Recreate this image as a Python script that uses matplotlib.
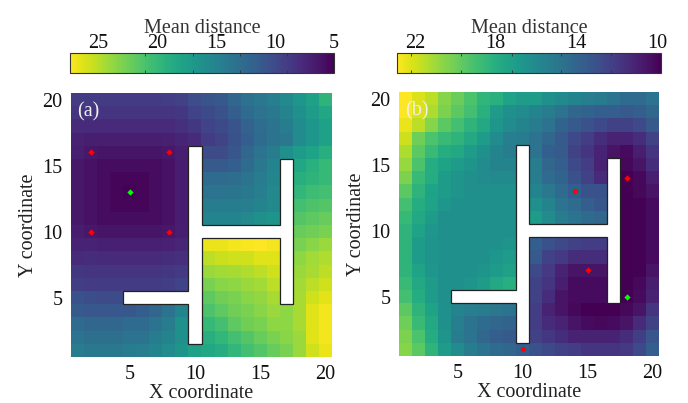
import numpy as np
import matplotlib
matplotlib.use('Agg')
import matplotlib.pyplot as plt
from matplotlib.patches import Polygon

plt.rcParams['font.family'] = ['Liberation Serif', 'DejaVu Serif']

n = np.nan

# mean distance por celda, filas de y=20 (arriba) a y=1
dist_a = [
    [9.0, 9.0, 9.0, 9.0, 9.0, 9.0, 9.0, 9.2, 9.4, 10.3, 10.8, 11.2, 12.6, 13.4, 14.0, 14.6, 15.6, 16.8, 17.8, 19.6],
    [8.4, 8.4, 8.4, 8.4, 8.4, 8.4, 8.4, 8.4, 8.6, 9.5, 10.0, 10.6, 11.7, 12.8, 13.5, 14.0, 15.1, 16.2, 17.3, 18.4],
    [7.7, 7.7, 7.7, 7.7, 7.7, 7.7, 7.7, 7.7, 8.0, 8.6, 9.5, 10.0, 10.8, 12.0, 13.0, 13.5, 14.4, 15.8, 16.8, 17.8],
    [7.1, 6.9, 6.9, 6.9, 6.9, 6.9, 6.9, 7.0, 7.3, 7.7, 9.0, 9.6, 10.6, 11.7, 12.8, 13.5, 14.0, 15.8, 16.8, 17.8],
    [6.9, 6.4, 6.3, 6.3, 6.3, 6.3, 6.3, 6.4, 6.9, n, 10.2, 10.2, 11.0, 12.4, 13.5, 14.5, 16.2, 17.3, 18.0, 19.0],
    [6.4, 6.1, 5.7, 5.7, 5.7, 5.7, 5.7, 6.1, 6.7, n, 11.3, 11.3, 11.7, 12.8, 14.0, 15.1, n, 18.4, 19.2, 20.0],
    [6.4, 6.1, 5.7, 5.3, 5.3, 5.3, 5.7, 6.1, 6.7, n, 12.8, 12.8, 13.0, 13.5, 14.4, 15.3, n, 19.1, 19.6, 20.0],
    [6.4, 6.1, 5.7, 5.3, 5.1, 5.3, 5.7, 6.1, 6.7, n, 13.5, 13.5, 13.7, 14.0, 14.6, 15.5, n, 19.8, 20.4, 20.7],
    [6.4, 6.1, 5.7, 5.3, 5.3, 5.3, 5.7, 6.1, 6.7, n, 14.4, 14.4, 14.4, 14.6, 15.1, 15.7, n, 20.7, 21.1, 21.4],
    [6.4, 6.1, 5.7, 5.7, 5.7, 5.7, 5.7, 6.1, 6.7, n, 15.1, 15.1, 15.1, 15.5, 16.2, 16.6, n, 21.4, 21.8, 22.2],
    [6.7, 6.4, 6.3, 6.3, 6.3, 6.3, 6.3, 6.4, 6.9, n, n, n, n, n, n, n, n, 22.2, 22.5, 22.9],
    [7.2, 7.2, 7.0, 7.0, 7.0, 7.0, 7.0, 7.1, 7.4, n, 26.7, 26.7, 27.0, 27.2, 27.4, 27.0, n, 22.9, 23.4, 24.0],
    [7.7, 7.9, 7.7, 7.7, 7.7, 7.7, 7.7, 7.9, 8.0, n, 25.2, 25.6, 25.8, 25.8, 26.3, 26.3, n, 23.6, 24.3, 24.7],
    [8.6, 8.4, 8.4, 8.4, 8.4, 8.4, 8.4, 8.6, 8.8, n, 24.0, 24.3, 24.5, 24.7, 25.2, 25.8, n, 24.0, 24.5, 25.2],
    [9.2, 9.0, 9.0, 9.0, 9.0, 9.0, 9.0, 9.2, 9.5, n, 22.9, 23.4, 23.6, 24.0, 24.3, 25.2, n, 24.3, 25.2, 25.8],
    [10.6, 10.4, 10.2, 10.2, n, n, n, n, n, n, 21.8, 22.5, 22.9, 23.4, 23.8, 24.5, n, 24.5, 25.8, 26.5],
    [11.3, 11.1, 11.1, 11.1, 11.1, 11.7, 12.4, 13.5, 15.1, n, 21.1, 21.8, 22.5, 22.9, 23.4, 24.0, 23.6, 24.5, 26.3, 27.0],
    [12.8, 12.4, 12.4, 12.4, 12.8, 12.8, 13.5, 14.4, 16.2, n, 20.0, 20.7, 21.8, 22.5, 22.9, 23.6, 23.6, 24.5, 26.3, 27.0],
    [13.5, 13.3, 13.3, 13.3, 13.5, 13.5, 14.4, 15.1, 16.2, n, 19.1, 19.8, 20.7, 21.4, 22.2, 22.9, 23.4, 24.0, 26.3, 27.0],
    [14.4, 14.0, 14.0, 14.0, 14.4, 14.6, 15.1, 15.8, 16.6, 17.8, 18.4, 18.9, 19.8, 20.7, 21.4, 22.2, 22.9, 24.0, 25.8, 26.7],
]

dist_b = [
    [22.9, 22.2, 21.6, 20.5, 19.9, 19.2, 18.4, 18.1, 17.4, 17.0, 17.0, 16.4, 16.0, 15.7, 15.4, 15.2, 14.8, 14.4, 14.4, 14.8],
    [22.9, 22.2, 21.3, 20.3, 19.6, 19.0, 18.1, 17.0, 16.4, 16.1, 15.7, 15.3, 14.8, 14.1, 14.0, 13.7, 13.7, 13.5, 13.7, 14.1],
    [22.5, 21.6, 20.5, 19.6, 19.0, 18.3, 17.7, 16.7, 16.1, 15.7, 15.3, 14.8, 14.0, 13.5, 13.1, 12.7, 12.4, 12.4, 12.7, 13.5],
    [21.9, 20.0, 19.2, 18.7, 18.3, 17.7, 17.0, 16.1, 15.4, 15.3, 14.8, 14.1, 13.5, 12.7, 12.2, 11.5, 11.1, 11.1, 11.5, 12.4],
    [21.3, 19.6, 18.7, 17.9, 17.7, 17.0, 16.4, 15.7, 15.3, n, 14.8, 13.7, 13.5, 12.4, 11.8, 11.1, 10.5, 10.2, 10.9, 11.8],
    [20.9, 19.2, 17.9, 17.4, 17.0, 16.6, 16.1, 15.7, 15.7, n, 15.3, 14.1, 13.7, 12.7, 12.2, 11.1, n, 10.1, 10.5, 11.5],
    [20.3, 18.7, 17.9, 17.0, 16.6, 16.4, 16.1, 16.0, 16.0, n, 15.3, 14.4, 14.0, 13.1, 12.4, 11.4, n, 9.8, 10.1, 10.9],
    [19.6, 18.3, 17.4, 17.0, 16.6, 16.4, 16.4, 16.4, 16.4, n, 15.7, 15.0, 14.4, 13.7, 13.1, 13.1, n, 9.8, 10.1, 10.5],
    [19.0, 17.9, 17.4, 16.7, 16.4, 16.4, 16.4, 16.4, 16.4, n, 16.4, 15.7, 14.8, 14.4, 13.7, 13.3, n, 9.8, 9.9, 10.2],
    [18.6, 17.7, 17.0, 16.4, 16.4, 16.4, 16.4, 16.4, 16.4, n, 17.0, 16.1, 15.3, 14.8, 14.4, 14.1, n, 9.8, 9.9, 10.2],
    [18.3, 17.4, 16.7, 16.4, 16.4, 16.4, 16.4, 16.4, 16.4, n, n, n, n, n, n, n, n, 9.8, 9.9, 10.2],
    [18.3, 17.0, 16.6, 16.4, 16.4, 16.4, 16.4, 16.4, 16.6, n, 13.7, 13.1, 12.7, 12.4, 12.2, 12.2, n, 9.8, 9.9, 10.2],
    [18.3, 17.0, 16.6, 16.4, 16.4, 16.4, 16.4, 16.7, 17.0, n, 13.5, 12.4, 12.0, 11.5, 11.5, 11.5, n, 9.8, 9.9, 10.2],
    [18.3, 17.4, 16.7, 16.4, 16.4, 16.4, 16.6, 17.0, 17.3, n, 12.7, 12.0, 11.1, 10.5, 10.5, 10.5, n, 9.8, 9.9, 10.5],
    [18.7, 17.7, 17.0, 16.4, 16.4, 16.6, 17.0, 17.7, 18.0, n, 12.4, 11.8, 10.9, 10.2, 10.2, 10.2, n, 9.8, 10.1, 10.9],
    [19.0, 17.9, 17.0, 16.4, n, n, n, n, n, n, 12.4, 11.5, 10.5, 10.2, 10.2, 10.2, n, 9.8, 10.2, 11.1],
    [19.6, 18.3, 17.4, 16.4, 15.7, 15.4, 15.3, 15.0, 14.8, n, 12.2, 11.1, 10.5, 10.1, 9.8, 9.8, 9.8, 10.1, 10.5, 11.8],
    [20.0, 18.7, 17.7, 16.4, 15.4, 14.8, 14.4, 14.1, 14.0, n, 12.2, 11.4, 11.1, 10.5, 10.2, 10.1, 10.2, 10.5, 11.4, 12.4],
    [20.3, 19.2, 17.9, 16.6, 15.3, 14.8, 14.1, 13.7, 13.5, n, 12.4, 11.9, 11.5, 11.1, 11.1, 11.1, 11.1, 11.5, 12.2, 13.3],
    [20.5, 19.6, 18.3, 17.0, 16.1, 15.3, 14.8, 14.4, 14.1, 13.7, 13.1, 12.7, 12.4, 12.2, 11.8, 11.8, 11.8, 12.0, 12.7, 13.7],
]

# paredes (comunes a los dos paneles)
wall_x = [9.5, 10.5, 10.5, 16.5, 16.5, 17.5, 17.5, 16.5, 16.5, 10.5, 10.5, 9.5, 9.5, 4.5, 4.5, 9.5]
wall_y = [16.5, 16.5, 10.5, 10.5, 15.5, 15.5, 4.5, 4.5, 9.5, 9.5, 1.5, 1.5, 4.5, 4.5, 5.5, 5.5]

# sensores
red_a_x = [2, 8, 2, 8]
red_a_y = [16, 16, 10, 10]
green_a = (5, 13)
red_b_x = [18, 14, 15, 10]
red_b_y = [14, 13, 7, 1]
green_b = (18, 5)

xticks = [5, 10, 15, 20]
yticks = [5, 10, 15, 20]

cb_a_range = (5.0, 27.4)
cb_a_labels = [25, 20, 15, 10, 5]
cb_a_marks = [25, 21, 17, 13, 9]
cb_b_range = (9.8, 22.9)
cb_b_labels = [22, 18, 14, 10]
cb_b_marks = [22.2, 19.7, 17.2, 14.75, 12.3]

W, H = 688, 403
FS = 14.5


def box(x0, y0, x1, y1):
    # pixeles de la imagen -> fraccion de figura
    return [x0 / W, 1 - y1 / H, (x1 - x0) / W, (y1 - y0) / H]


def panel(fig, rect, cb_rect, data, rng, labels, marks, red_x, red_y, green, tag):
    ax = fig.add_axes(box(*rect))
    im = ax.imshow(np.array(data)[::-1], cmap='viridis', vmin=rng[0], vmax=rng[1], origin='lower',
                   extent=(0.5, 20.5, 0.5, 20.5), aspect='auto', interpolation='nearest')
    ax.add_patch(Polygon(np.column_stack([wall_x, wall_y]), closed=True, fc='white', ec='#222222', lw=0.9))
    ax.plot(red_x, red_y, 'D', color='#ff0000', ms=3.2, mew=0, clip_on=False)
    ax.plot([green[0]], [green[1]], 'D', color='#00ff00', ms=3.2, mew=0)
    ax.set_xticks(xticks)
    ax.set_yticks(yticks)
    ax.tick_params(length=0, labelsize=FS, pad=6, colors='#111111')
    ax.set_xlabel('X coordinate', fontsize=FS, color='#222222', labelpad=0)
    ax.set_ylabel('Y coordinate', fontsize=FS, color='#222222', labelpad=3)
    for s in ax.spines.values():
        s.set_visible(False)
    ax.text(0.025, 0.93, tag, transform=ax.transAxes, fontsize=FS, color='#f0f0f0', va='center', ha='left')

    cax = fig.add_axes(box(*cb_rect))
    cb = fig.colorbar(im, cax=cax, orientation='horizontal')
    cax.set_xlim(rng[1], rng[0])
    cax.xaxis.set_ticks_position('top')
    cax.xaxis.set_label_position('top')
    cax.set_xticks(labels)
    cax.set_xticks(marks, minor=True)
    cax.tick_params(which='major', length=0, labelsize=FS, pad=0, colors='#111111')
    cax.tick_params(which='minor', length=2, width=0.6, direction='in', color='#333333', top=True, bottom=True)
    cb.set_label('Mean distance', fontsize=FS, color='#333333', labelpad=1)
    cb.outline.set_edgecolor('#333333')
    cb.outline.set_linewidth(0.8)
    return ax


fig = plt.figure(figsize=(6.88, 4.03), dpi=100)
panel(fig, (71, 93, 332, 357), (70, 53, 334, 73), dist_a, cb_a_range, cb_a_labels, cb_a_marks,
      red_a_x, red_a_y, green_a, '(a)')
panel(fig, (399, 92, 659, 356), (397, 53, 661, 73), dist_b, cb_b_range, cb_b_labels, cb_b_marks,
      red_b_x, red_b_y, green_b, '(b)')

fig.savefig('out.png', dpi=100)
